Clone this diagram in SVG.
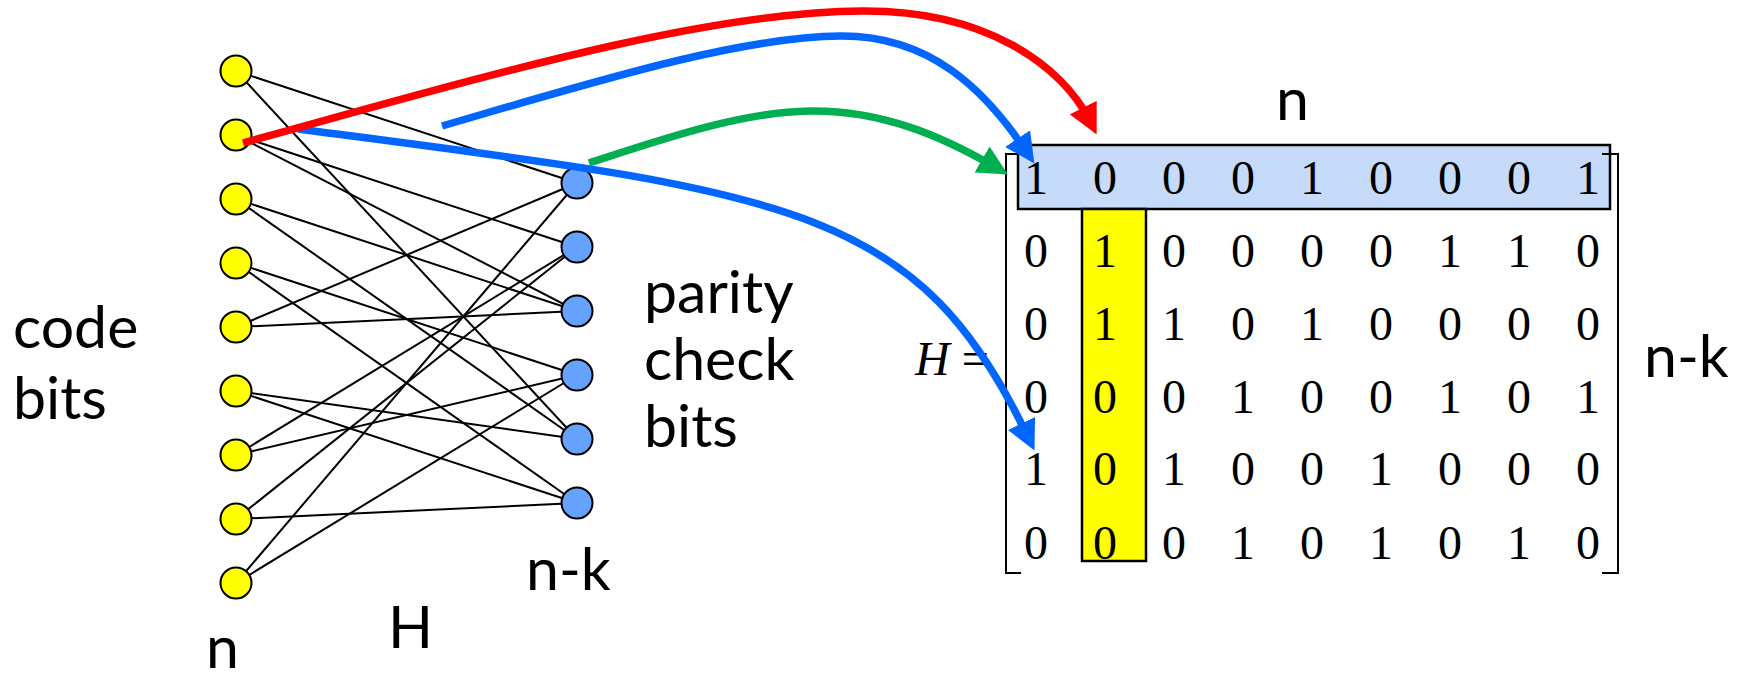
<svg xmlns="http://www.w3.org/2000/svg" width="1745" height="677" viewBox="0 0 1745 677">
  <style>
    .edge { stroke: #000; stroke-width: 2; fill: none; }
    .code { fill: #FFFF00; stroke: #000; stroke-width: 2; }
    .check { fill: #66A3FF; stroke: #000; stroke-width: 2; }
    .lbl { font-family: Lato, "Open Sans", sans-serif; font-size: 59px; fill: #000; }
    .dig { font-family: "Liberation Serif", "Times New Roman", serif; font-size: 48px; fill: #000; text-anchor: middle; }
    .arrow { fill: none; stroke-width: 7.5; }
    .box { stroke: #000; stroke-width: 2.5; }
    .bracket { fill: none; stroke: #000; stroke-width: 2; }
  </style>
  <defs>
    <marker id="headRed" markerUnits="userSpaceOnUse" markerWidth="30" markerHeight="30" viewBox="0 0 24 24" refX="12" refY="12" orient="auto">
      <path d="M0,0 L24,12 L0,24 Z" fill="#FF0000"/>
    </marker>
    <marker id="headBlue" markerUnits="userSpaceOnUse" markerWidth="30" markerHeight="30" viewBox="0 0 24 24" refX="12" refY="12" orient="auto">
      <path d="M0,0 L24,12 L0,24 Z" fill="#0066FF"/>
    </marker>
    <marker id="headGreen" markerUnits="userSpaceOnUse" markerWidth="30" markerHeight="30" viewBox="0 0 24 24" refX="12" refY="12" orient="auto">
      <path d="M0,0 L24,12 L0,24 Z" fill="#00B050"/>
    </marker>
  </defs>

  <!-- Tanner graph edges: code bit j to parity check i where H[i][j] = 1 -->
  <g id="edges">
    <line class="edge" x1="236" y1="71" x2="577" y2="183"/>
    <line class="edge" x1="236" y1="71" x2="577" y2="439"/>
    <line class="edge" x1="236" y1="135" x2="577" y2="247"/>
    <line class="edge" x1="236" y1="135" x2="577" y2="311"/>
    <line class="edge" x1="236" y1="199" x2="577" y2="311"/>
    <line class="edge" x1="236" y1="199" x2="577" y2="439"/>
    <line class="edge" x1="236" y1="263" x2="577" y2="375"/>
    <line class="edge" x1="236" y1="263" x2="577" y2="503"/>
    <line class="edge" x1="236" y1="327" x2="577" y2="183"/>
    <line class="edge" x1="236" y1="327" x2="577" y2="311"/>
    <line class="edge" x1="236" y1="391" x2="577" y2="439"/>
    <line class="edge" x1="236" y1="391" x2="577" y2="503"/>
    <line class="edge" x1="236" y1="455" x2="577" y2="247"/>
    <line class="edge" x1="236" y1="455" x2="577" y2="375"/>
    <line class="edge" x1="236" y1="519" x2="577" y2="247"/>
    <line class="edge" x1="236" y1="519" x2="577" y2="503"/>
    <line class="edge" x1="236" y1="583" x2="577" y2="183"/>
    <line class="edge" x1="236" y1="583" x2="577" y2="375"/>
  </g>

  <!-- code bit nodes -->
  <g id="code-bits">
    <circle id="c1" class="code" cx="236" cy="71" r="15.5"/>
    <circle id="c2" class="code" cx="236" cy="135" r="15.5"/>
    <circle id="c3" class="code" cx="236" cy="199" r="15.5"/>
    <circle id="c4" class="code" cx="236" cy="263" r="15.5"/>
    <circle id="c5" class="code" cx="236" cy="327" r="15.5"/>
    <circle id="c6" class="code" cx="236" cy="391" r="15.5"/>
    <circle id="c7" class="code" cx="236" cy="455" r="15.5"/>
    <circle id="c8" class="code" cx="236" cy="519" r="15.5"/>
    <circle id="c9" class="code" cx="236" cy="583" r="15.5"/>
  </g>

  <!-- parity check nodes -->
  <g id="check-bits">
    <circle id="p1" class="check" cx="577" cy="183" r="15.5"/>
    <circle id="p2" class="check" cx="577" cy="247" r="15.5"/>
    <circle id="p3" class="check" cx="577" cy="311" r="15.5"/>
    <circle id="p4" class="check" cx="577" cy="375" r="15.5"/>
    <circle id="p5" class="check" cx="577" cy="439" r="15.5"/>
    <circle id="p6" class="check" cx="577" cy="503" r="15.5"/>
  </g>

  <!-- graph labels -->
  <g id="graph-labels">
    <text class="lbl" x="13" y="348">code</text>
    <text class="lbl" x="13" y="419">bits</text>
    <text class="lbl" x="644" y="313">parity</text>
    <text class="lbl" x="644" y="380">check</text>
    <text class="lbl" x="644" y="447">bits</text>
    <text class="lbl" x="206" y="668">n</text>
    <text class="lbl" x="388" y="648">H</text>
    <text class="lbl" x="526" y="590">n-k</text>
  </g>

  <!-- parity check matrix -->
  <g id="matrix">
    <rect id="row-highlight" class="box" x="1018" y="145" width="592" height="64" fill="#C6DAF9"/>
    <rect id="col-highlight" class="box" x="1082" y="209" width="64" height="352" fill="#FFFF00"/>
    <path class="bracket" d="M1017,154 H1006 V573 H1021"/>
    <path class="bracket" d="M1602,154 H1618 V573 H1602"/>
    <text x="915" y="375" font-family="'Liberation Serif', 'Times New Roman', serif" font-size="48"><tspan font-style="italic">H</tspan> =</text>
    <g class="dig">
      <text x="1036" y="194">1</text><text x="1105" y="194">0</text><text x="1174" y="194">0</text><text x="1243" y="194">0</text><text x="1312" y="194">1</text><text x="1381" y="194">0</text><text x="1450" y="194">0</text><text x="1519" y="194">0</text><text x="1588" y="194">1</text>
      <text x="1036" y="267">0</text><text x="1105" y="267">1</text><text x="1174" y="267">0</text><text x="1243" y="267">0</text><text x="1312" y="267">0</text><text x="1381" y="267">0</text><text x="1450" y="267">1</text><text x="1519" y="267">1</text><text x="1588" y="267">0</text>
      <text x="1036" y="340">0</text><text x="1105" y="340">1</text><text x="1174" y="340">1</text><text x="1243" y="340">0</text><text x="1312" y="340">1</text><text x="1381" y="340">0</text><text x="1450" y="340">0</text><text x="1519" y="340">0</text><text x="1588" y="340">0</text>
      <text x="1036" y="413">0</text><text x="1105" y="413">0</text><text x="1174" y="413">0</text><text x="1243" y="413">1</text><text x="1312" y="413">0</text><text x="1381" y="413">0</text><text x="1450" y="413">1</text><text x="1519" y="413">0</text><text x="1588" y="413">1</text>
      <text x="1036" y="485">1</text><text x="1105" y="485">0</text><text x="1174" y="485">1</text><text x="1243" y="485">0</text><text x="1312" y="485">0</text><text x="1381" y="485">1</text><text x="1450" y="485">0</text><text x="1519" y="485">0</text><text x="1588" y="485">0</text>
      <text x="1036" y="559">0</text><text x="1105" y="559">0</text><text x="1174" y="559">0</text><text x="1243" y="559">1</text><text x="1312" y="559">0</text><text x="1381" y="559">1</text><text x="1450" y="559">0</text><text x="1519" y="559">1</text><text x="1588" y="559">0</text>
    </g>
    <text class="lbl" x="1276" y="120">n</text>
    <text class="lbl" x="1644" y="377">n-k</text>
  </g>

  <!-- mapping arrows from the graph to the matrix -->
  <g id="arrows">
    <path class="arrow" stroke="#0066FF" marker-end="url(#headBlue)" d="M298,129 C790,193 916,203 1028,437"/>
    <path class="arrow" stroke="#0066FF" marker-end="url(#headBlue)" d="M442,126 C600,80 740,37 840,36 C930,35 985,90 1026,151"/>
    <path class="arrow" stroke="#00B050" marker-end="url(#headGreen)" d="M589,163 C660,140 740,112 810,111 C880,110 940,135 995,167"/>
    <path class="arrow" stroke="#FF0000" marker-end="url(#headRed)" d="M243,143 C480,78 700,12 862,11 C985,10 1062,65 1090,121"/>
  </g>
</svg>
